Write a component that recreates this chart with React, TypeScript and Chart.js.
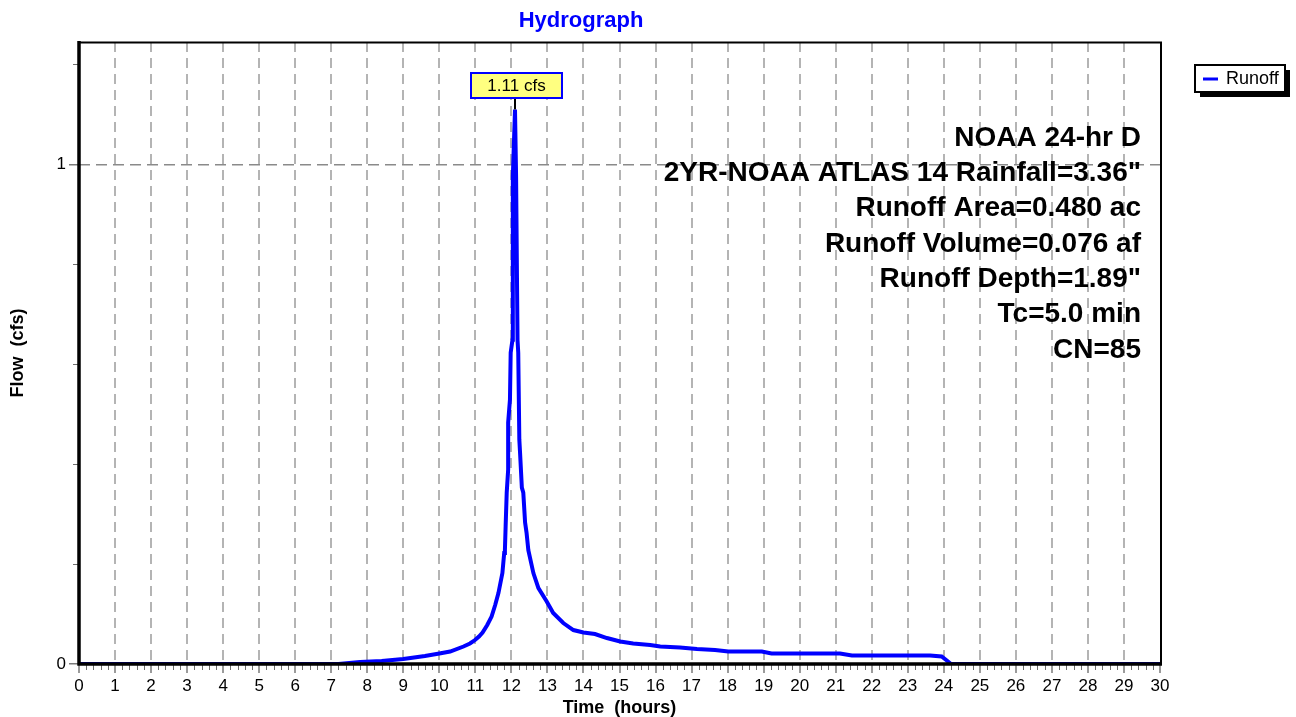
import React, { useEffect, useRef } from 'react';
import { Chart, registerables } from 'chart.js';

Chart.register(...registerables);

const FONT = '"Liberation Sans", Arial, Helvetica, sans-serif';

// ---- data ----
const timeHours = [
  0, 7.2, 7.5, 7.8, 8.1, 8.4, 8.7, 9.0, 9.3, 9.6,
  10.0, 10.3, 10.67, 10.85, 10.99, 11.1, 11.2, 11.33, 11.45, 11.55,
  11.64, 11.75, 11.8, 11.82, 11.84, 11.87, 11.91, 11.91, 11.96, 11.98,
  12.03, 12.04, 12.1, 12.13, 12.17, 12.19, 12.22, 12.24, 12.29, 12.33,
  12.38, 12.42, 12.47, 12.61, 12.75, 12.98, 13.16, 13.44, 13.72, 14.0,
  14.32, 14.65, 15.02, 15.38, 15.85, 16.13, 16.68, 17.15, 17.65, 18.02,
  18.95, 19.22, 21.12, 21.45, 23.62, 23.94, 24.1, 24.2, 30,
];
const runoffCfs = [
  0, 0, 0.002, 0.004, 0.005, 0.006, 0.008, 0.01, 0.013, 0.016,
  0.021, 0.025, 0.035, 0.041, 0.048, 0.055, 0.063, 0.078, 0.095, 0.118,
  0.142, 0.182, 0.222, 0.228, 0.276, 0.343, 0.389, 0.483, 0.529, 0.623,
  0.649, 0.976, 1.11, 0.976, 0.649, 0.623, 0.449, 0.423, 0.353, 0.343,
  0.283, 0.263, 0.228, 0.182, 0.152, 0.125, 0.102, 0.082, 0.068, 0.063,
  0.06, 0.052, 0.045, 0.041, 0.038, 0.035, 0.033, 0.03, 0.028, 0.025,
  0.025, 0.021, 0.021, 0.017, 0.017, 0.015, 0.006, 0, 0,
];
const seriesLabel = 'Runoff';
const chartTitle = 'Hydrograph';
const xAxisTitle = 'Time  (hours)';
const yAxisTitle = 'Flow  (cfs)';
const peakUnit = 'cfs';
const annotationLines = [
  'NOAA 24-hr D',
  '2YR-NOAA ATLAS 14 Rainfall=3.36"',
  'Runoff Area=0.480 ac',
  'Runoff Volume=0.076 af',
  'Runoff Depth=1.89"',
  'Tc=5.0 min',
  'CN=85',
];
const xMin = 0;
const xMax = 30;
const yMin = 0;
const yMax = 1.245;
const xMinorStep = 0.2;
const yMinorStep = 0.2;

const decorPlugin = {
  id: 'hydroDecor',
  afterDatasetsDraw(chart: any) {
    const { ctx, chartArea: a, scales } = chart;
    const xs = scales.x;
    const ys = scales.y;
    ctx.save();

    // minor ticks
    ctx.strokeStyle = '#6e6e6e';
    ctx.lineWidth = 1;
    ctx.beginPath();
    const nx = Math.round((xMax - xMin) / xMinorStep);
    for (let i = 1; i < nx; i++) {
      if (i % 5 === 0) continue;
      const px = Math.round(xs.getPixelForValue(xMin + i * xMinorStep)) + 0.5;
      ctx.moveTo(px, a.bottom);
      ctx.lineTo(px, a.bottom + 6);
    }
    const ny = Math.floor((yMax - yMin) / yMinorStep + 1e-6);
    for (let i = 1; i <= ny; i++) {
      if (i % 5 === 0) continue;
      const py = Math.round(ys.getPixelForValue(yMin + i * yMinorStep)) + 0.5;
      ctx.moveTo(a.left - 6, py);
      ctx.lineTo(a.left, py);
    }
    ctx.stroke();

    // frame
    ctx.strokeStyle = '#000';
    ctx.lineWidth = 2;
    ctx.beginPath();
    ctx.moveTo(a.left, a.top + 0.5);
    ctx.lineTo(a.right + 1, a.top + 0.5);
    ctx.lineTo(a.right + 1, a.bottom);
    ctx.stroke();
    ctx.lineWidth = 3.5;
    ctx.beginPath();
    ctx.moveTo(a.left, a.top - 1);
    ctx.lineTo(a.left, a.bottom);
    ctx.lineTo(a.right + 2, a.bottom);
    ctx.stroke();

    // peak label
    const ds = chart.data.datasets[0];
    const meta = chart.getDatasetMeta(0);
    let best = 0;
    ds.data.forEach((p: any, i: number) => {
      if (p.y > ds.data[best].y) best = i;
    });
    const pt = meta.data[best];
    const label = `${ds.data[best].y.toFixed(2)} ${peakUnit}`;
    ctx.font = `17px ${FONT}`;
    const bw = 91;
    const bh = 25;
    const bx = Math.round(pt.x + 1 - bw / 2);
    const by = Math.round(pt.y - 11 - bh);
    ctx.strokeStyle = '#000';
    ctx.lineWidth = 2;
    ctx.beginPath();
    ctx.moveTo(pt.x, by + bh);
    ctx.lineTo(pt.x, pt.y);
    ctx.stroke();
    ctx.fillStyle = '#ffff80';
    ctx.fillRect(bx, by, bw, bh);
    ctx.strokeStyle = '#0000ff';
    ctx.lineWidth = 2;
    ctx.strokeRect(bx, by, bw, bh);
    ctx.fillStyle = '#000';
    ctx.textAlign = 'center';
    ctx.textBaseline = 'middle';
    ctx.fillText(label, bx + bw / 2, by + bh / 2 + 1);

    // annotation block
    ctx.font = `bold 28px ${FONT}`;
    ctx.textAlign = 'right';
    ctx.textBaseline = 'middle';
    ctx.fillStyle = '#000';
    annotationLines.forEach((t, i) => {
      ctx.fillText(t, a.right - 19, a.top + 96 + i * 35.3);
    });

    // title
    ctx.font = `bold 22px ${FONT}`;
    ctx.textAlign = 'center';
    ctx.fillStyle = '#0000ff';
    ctx.fillText(chartTitle, a.right / 2 + 1, 21);

    // legend
    const lx = a.right + 35;
    const ly = a.top + 23;
    const lw = 90;
    const lh = 27;
    ctx.fillStyle = '#000';
    ctx.fillRect(lx + 5, ly + 5, lw, lh);
    ctx.fillStyle = '#fff';
    ctx.fillRect(lx, ly, lw, lh);
    ctx.strokeStyle = '#000';
    ctx.lineWidth = 2;
    ctx.strokeRect(lx, ly, lw, lh);
    ctx.strokeStyle = ds.borderColor;
    ctx.lineWidth = 3;
    ctx.beginPath();
    ctx.moveTo(lx + 8, ly + 14);
    ctx.lineTo(lx + 23, ly + 14);
    ctx.stroke();
    ctx.fillStyle = '#000';
    ctx.font = `18px ${FONT}`;
    ctx.textAlign = 'left';
    ctx.fillText(ds.label, lx + 31, ly + 14);

    ctx.restore();
  },
};

export default function App() {
  const ref = useRef<HTMLCanvasElement>(null);
  useEffect(() => {
    document.body.style.margin = '0';
    const data = timeHours.map((t, i) => ({ x: t, y: runoffCfs[i] }));
    const chart = new Chart(ref.current as HTMLCanvasElement, {
      type: 'line',
      data: {
        datasets: [
          {
            label: seriesLabel,
            data,
            borderColor: '#0000ff',
            backgroundColor: '#0000ff',
            borderWidth: 4,
            pointRadius: 0,
            tension: 0,
            fill: false,
          },
        ],
      },
      options: {
        animation: false,
        responsive: true,
        maintainAspectRatio: false,
        layout: { padding: { top: 42, right: 136, left: 0, bottom: 0 } },
        plugins: {
          legend: { display: false },
          title: { display: false },
          tooltip: { enabled: false },
        },
        scales: {
          x: {
            type: 'linear',
            min: xMin,
            max: xMax,
            afterFit: (s: any) => {
              s.height = 53;
            },
            border: { display: false, dash: [10, 6] },
            grid: {
              color: (c: any) =>
                c.tick && (c.tick.value === xMin || c.tick.value === xMax) ? 'rgba(0,0,0,0)' : '#b4b4b4',
              lineWidth: 2,
              tickLength: 9,
              tickColor: '#7a7a7a',
              tickWidth: 1.5,
              tickBorderDash: [],
            },
            ticks: {
              stepSize: 1,
              autoSkip: false,
              maxRotation: 0,
              padding: 3,
              color: '#000',
              font: { family: FONT, size: 17 },
              callback: (v: any) => String(v),
            },
            title: {
              display: true,
              text: xAxisTitle,
              color: '#000',
              font: { family: FONT, size: 18, weight: 'bold', lineHeight: 1 },
              padding: { top: 0, bottom: 0 },
            },
          },
          y: {
            type: 'linear',
            min: yMin,
            max: yMax,
            afterFit: (s: any) => {
              s.width = 79;
            },
            border: { display: false, dash: [11, 6] },
            grid: {
              color: (c: any) => (c.tick && c.tick.value === 1 ? '#8a8a8a' : 'rgba(0,0,0,0)'),
              lineWidth: 1.5,
              tickLength: 10,
              tickColor: '#7a7a7a',
              tickWidth: 1.5,
              tickBorderDash: [],
            },
            ticks: {
              stepSize: 1,
              includeBounds: false,
              padding: 3,
              color: '#000',
              font: { family: FONT, size: 17 },
              callback: (v: any) => String(v),
            },
            title: {
              display: true,
              text: yAxisTitle,
              color: '#000',
              font: { family: FONT, size: 18, weight: 'bold', lineHeight: 1 },
              padding: { top: 9, bottom: 0 },
            },
          },
        },
      } as any,
      plugins: [decorPlugin],
    });
    return () => chart.destroy();
  }, []);
  return (
    <div style={{ width: 1296, height: 717, position: 'relative' }}>
      <canvas ref={ref} />
    </div>
  );
}
